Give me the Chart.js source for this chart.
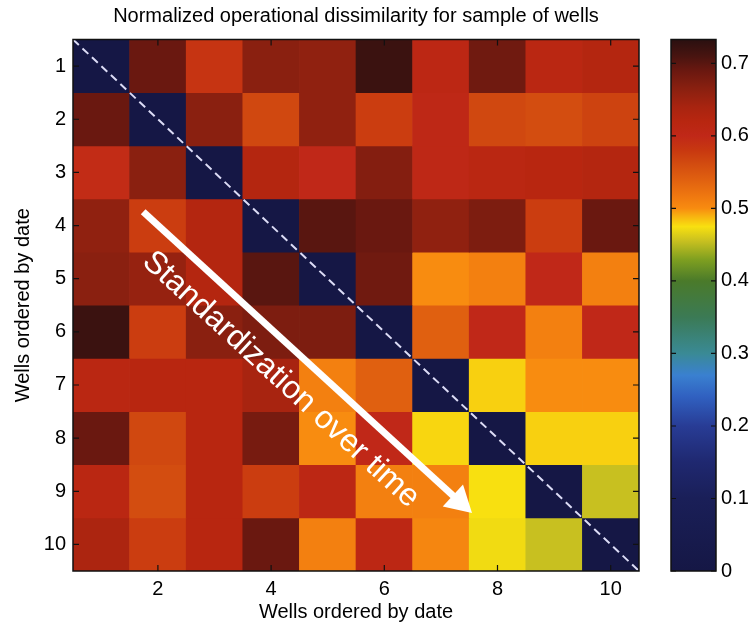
<!DOCTYPE html>
<html>
<head>
<meta charset="utf-8">
<script src="https://cdn.jsdelivr.net/npm/chart.js@4.4.1/dist/chart.umd.min.js"></script>
<style>
  html, body { margin: 0; padding: 0; background: #fff; }
  #wrap { width: 751px; height: 626px; position: relative; }
</style>
</head>
<body>
<div id="wrap"><canvas id="heatmap"></canvas></div>
<script>
// wells, in date order, on both axes
const wells = [1, 2, 3, 4, 5, 6, 7, 8, 9, 10];
const xTicks = [2, 4, 6, 8, 10];
const colorTicks = [0, 0.1, 0.2, 0.3, 0.4, 0.5, 0.6, 0.7];
const colorMax = 0.733;

// normalized operational dissimilarity (row = well on y, column = well on x)
const dissimilarity = [
  [0.000, 0.690, 0.585, 0.665, 0.660, 0.720, 0.610, 0.685, 0.615, 0.625],
  [0.690, 0.000, 0.665, 0.565, 0.660, 0.575, 0.605, 0.565, 0.560, 0.570],
  [0.595, 0.665, 0.000, 0.625, 0.600, 0.670, 0.605, 0.615, 0.620, 0.625],
  [0.660, 0.575, 0.625, 0.000, 0.700, 0.690, 0.660, 0.675, 0.575, 0.690],
  [0.665, 0.655, 0.625, 0.700, 0.000, 0.685, 0.500, 0.510, 0.600, 0.510],
  [0.720, 0.575, 0.665, 0.675, 0.675, 0.000, 0.540, 0.600, 0.510, 0.600],
  [0.615, 0.620, 0.620, 0.640, 0.510, 0.540, 0.000, 0.480, 0.500, 0.500],
  [0.690, 0.565, 0.620, 0.680, 0.500, 0.600, 0.478, 0.000, 0.480, 0.480],
  [0.615, 0.560, 0.620, 0.575, 0.610, 0.510, 0.510, 0.475, 0.000, 0.455],
  [0.635, 0.575, 0.620, 0.690, 0.510, 0.610, 0.505, 0.472, 0.455, 0.000]
];

// arrow + caption, in axis units
const arrowFrom = [1.74, 3.74];
const arrowTo = [7.55, 9.41];
const captionAt = [4.17, 6.9];
const caption = "Standardization over time";

// colour map (value -> colour)
const cmap = [
  [0.000, "#151745"], [0.100, "#1a1f58"], [0.150, "#1f2870"], [0.200, "#283c95"],
  [0.240, "#3060c0"], [0.270, "#3a80d0"], [0.300, "#3a8a95"], [0.350, "#3b7a55"],
  [0.400, "#4a7a2a"], [0.430, "#80a020"], [0.455, "#c8c020"], [0.475, "#f8e010"],
  [0.490, "#f8b010"], [0.500, "#f88c10"], [0.515, "#f07a10"], [0.540, "#e06010"],
  [0.565, "#d04810"], [0.580, "#c83810"], [0.600, "#c02818"], [0.620, "#b82610"],
  [0.640, "#a82410"], [0.665, "#8a2010"], [0.690, "#6a1810"], [0.710, "#481410"],
  [0.733, "#2a1010"]
];

function hexRgb(h) {
  const n = parseInt(h.slice(1), 16);
  return [(n >> 16) & 255, (n >> 8) & 255, n & 255];
}

function colorFor(v) {
  if (v <= cmap[0][0]) return cmap[0][1];
  for (let i = 1; i < cmap.length; i++) {
    if (v <= cmap[i][0]) {
      const [v0, c0] = cmap[i - 1], [v1, c1] = cmap[i];
      const t = (v - v0) / (v1 - v0);
      const a = hexRgb(c0), b = hexRgb(c1);
      const rgb = a.map((k, j) => Math.round(k + (b[j] - k) * t));
      return `rgb(${rgb.join(",")})`;
    }
  }
  return cmap[cmap.length - 1][1];
}

// one floating-bar dataset per row: each cell spans well-0.5 .. well+0.5
const datasets = wells.map((rowWell, i) => ({
  label: "Well " + rowWell,
  data: wells.map(colWell => ({ x: colWell, y: [rowWell - 0.5, rowWell + 0.5] })),
  backgroundColor: dissimilarity[i].map(colorFor),
  borderWidth: 0
}));

// frame, ticks, diagonal, arrow and colour bar
const decorations = {
  id: "decorations",
  afterDatasetsDraw(chart) {
    const { ctx, chartArea: a, scales } = chart;
    const xs = scales.x, ys = scales.y;
    ctx.save();

    // dashed diagonal
    ctx.strokeStyle = "#dcdcf6";
    ctx.lineWidth = 2;
    ctx.setLineDash([8, 5]);
    ctx.beginPath();
    ctx.moveTo(xs.getPixelForValue(0.5), ys.getPixelForValue(0.5));
    ctx.lineTo(xs.getPixelForValue(10.5), ys.getPixelForValue(10.5));
    ctx.stroke();
    ctx.setLineDash([]);

    // arrow
    const x0 = xs.getPixelForValue(arrowFrom[0]), y0 = ys.getPixelForValue(arrowFrom[1]);
    const x1 = xs.getPixelForValue(arrowTo[0]), y1 = ys.getPixelForValue(arrowTo[1]);
    const ang = Math.atan2(y1 - y0, x1 - x0);
    const c = Math.cos(ang), s = Math.sin(ang);
    const headLen = 26, headHalf = 15;
    ctx.strokeStyle = "#fff";
    ctx.fillStyle = "#fff";
    ctx.lineWidth = 7;
    ctx.beginPath();
    ctx.moveTo(x0, y0);
    ctx.lineTo(x1 - c * headLen * 0.8, y1 - s * headLen * 0.8);
    ctx.stroke();
    const bx = x1 - c * headLen, by = y1 - s * headLen;
    ctx.beginPath();
    ctx.moveTo(x1, y1);
    ctx.lineTo(bx - s * headHalf, by + c * headHalf);
    ctx.lineTo(bx + s * headHalf, by - c * headHalf);
    ctx.closePath();
    ctx.fill();

    // caption along the arrow
    ctx.save();
    ctx.translate(xs.getPixelForValue(captionAt[0]), ys.getPixelForValue(captionAt[1]));
    ctx.rotate(ang);
    ctx.font = '32px "Liberation Sans", Arial, sans-serif';
    ctx.textAlign = "center";
    ctx.textBaseline = "middle";
    ctx.fillText(caption, 0, 0);
    ctx.restore();

    // frame and inward ticks
    ctx.strokeStyle = "#111";
    ctx.lineWidth = 1.5;
    ctx.strokeRect(a.left, a.top, a.right - a.left, a.bottom - a.top);
    ctx.lineWidth = 1.2;
    ctx.beginPath();
    xs.ticks.forEach(t => {
      const px = xs.getPixelForValue(t.value);
      ctx.moveTo(px, a.bottom); ctx.lineTo(px, a.bottom - 6);
      ctx.moveTo(px, a.top); ctx.lineTo(px, a.top + 6);
    });
    ys.ticks.forEach(t => {
      const py = ys.getPixelForValue(t.value);
      ctx.moveTo(a.left, py); ctx.lineTo(a.left + 6, py);
      ctx.moveTo(a.right, py); ctx.lineTo(a.right - 6, py);
    });
    ctx.stroke();

    // colour bar
    const cb = scales.cb, gap = scales.gap;
    const right = gap.right, left = right - 45;
    const yBottom = cb.getPixelForValue(0), yTop = cb.getPixelForValue(colorMax);
    const grad = ctx.createLinearGradient(0, yBottom, 0, yTop);
    cmap.forEach(([v, col]) => grad.addColorStop(Math.min(1, v / colorMax), col));
    ctx.fillStyle = grad;
    ctx.fillRect(left, yTop, right - left, yBottom - yTop);
    ctx.lineWidth = 1.5;
    ctx.strokeRect(left, yTop, right - left, yBottom - yTop);
    ctx.lineWidth = 1.2;
    ctx.beginPath();
    cb.ticks.forEach(t => {
      const py = cb.getPixelForValue(t.value);
      ctx.moveTo(left, py); ctx.lineTo(left + 5, py);
      ctx.moveTo(right, py); ctx.lineTo(right - 5, py);
    });
    ctx.stroke();
    ctx.restore();
  }
};

Chart.defaults.font.family = '"Liberation Sans", Arial, sans-serif';
Chart.defaults.color = "#000";

new Chart(document.getElementById("heatmap"), {
  type: "bar",
  data: { datasets },
  options: {
    responsive: true,
    maintainAspectRatio: false,
    animation: false,
    events: [],
    layout: { padding: 0 },
    datasets: {
      bar: { grouped: false, barPercentage: 1, categoryPercentage: 1 }
    },
    plugins: {
      legend: { display: false },
      tooltip: { enabled: false },
      title: {
        display: true,
        fullSize: false,
        text: "Normalized operational dissimilarity for sample of wells",
        color: "#000",
        font: { size: 20, weight: "normal" },
        padding: { top: 4, bottom: 11.5 }
      }
    },
    scales: {
      x: {
        type: "linear",
        position: "bottom",
        min: 0.5,
        max: 10.5,
        offset: false,
        afterBuildTicks: s => { s.ticks = xTicks.map(v => ({ value: v })); },
        grid: { display: false, drawTicks: false },
        border: { display: false },
        ticks: { font: { size: 20 }, padding: 6, maxRotation: 0 },
        title: { display: true, text: "Wells ordered by date", font: { size: 20 }, padding: { top: 2, bottom: 2 } },
        afterFit: s => { s.height = 55; }
      },
      y: {
        type: "linear",
        position: "left",
        reverse: true,
        min: 0.5,
        max: 10.5,
        afterBuildTicks: s => { s.ticks = wells.map(v => ({ value: v })); },
        grid: { display: false, drawTicks: false },
        border: { display: false },
        ticks: { font: { size: 20 }, padding: 7 },
        title: { display: true, text: "Wells ordered by date", font: { size: 20 }, padding: { top: 11, bottom: 4 } },
        afterFit: s => { s.width = 73; }
      },
      gap: {
        type: "linear",
        axis: "y",
        position: "right",
        weight: 0,
        display: true,
        grid: { display: false, drawTicks: false },
        border: { display: false },
        ticks: { display: false },
        afterFit: s => { s.width = 77; }
      },
      cb: {
        type: "linear",
        axis: "y",
        position: "right",
        weight: 1,
        min: 0,
        max: colorMax,
        afterBuildTicks: s => { s.ticks = colorTicks.map(v => ({ value: v })); },
        grid: { display: false, drawTicks: false },
        border: { display: false },
        ticks: { font: { size: 20 }, padding: 5, callback: v => String(v) },
        afterFit: s => { s.width = 35; }
      }
    }
  },
  plugins: [decorations]
});
</script>
</body>
</html>
